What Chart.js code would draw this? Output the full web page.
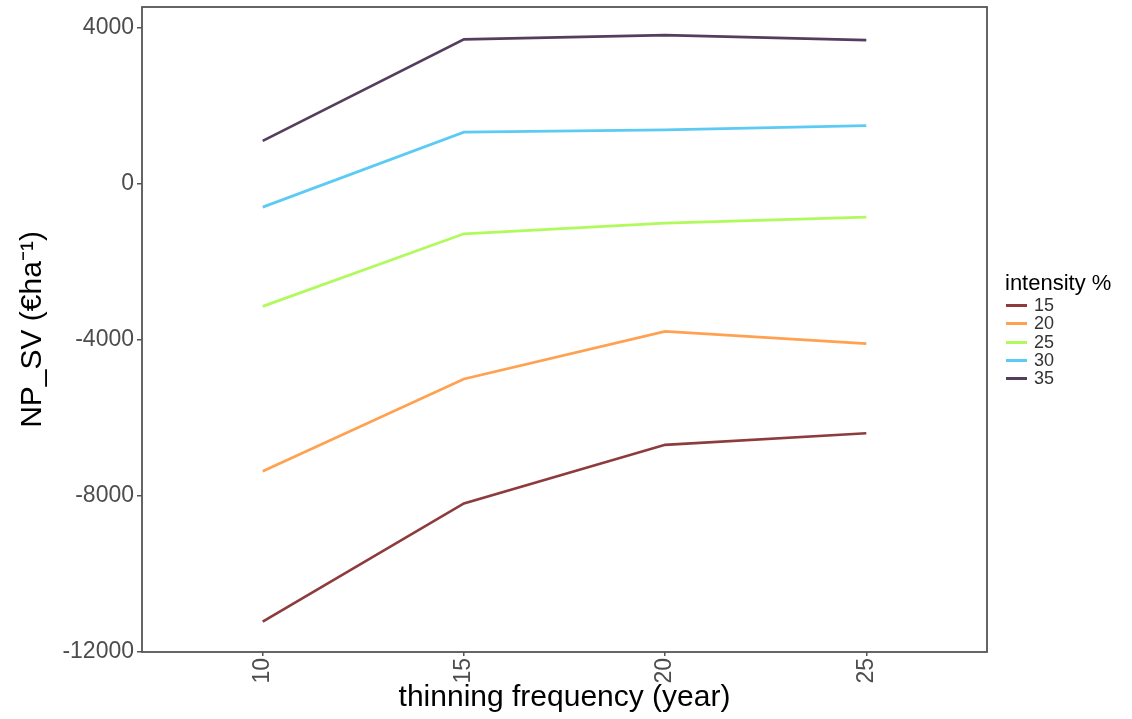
<!DOCTYPE html>
<html>
<head>
<meta charset="utf-8">
<script src="https://cdn.jsdelivr.net/npm/chart.js@4"></script>
<style>
  html, body { margin: 0; padding: 0; background: #fff; }
  #wrap { position: relative; width: 1132px; height: 719px; }
  #legend { position: absolute; left: 1005px; top: 270px; font-family: "Liberation Sans", Arial, sans-serif; }
  #legend .ttl { font-size: 22px; line-height: 26px; color: #000; white-space: nowrap; }
  #legend .row { font-size: 18px; line-height: 18px; height: 18.25px; color: #333; white-space: nowrap; position: relative; padding-left: 29px; }
  #legend .key { position: absolute; left: 1px; top: 8px; width: 21px; height: 3px; }
</style>
</head>
<body>
<div id="wrap">
  <canvas id="c" width="1132" height="719"></canvas>
  <div id="legend"></div>
</div>
<script>
// ---- data ----
const frequencies = [10, 15, 20, 25];
const intensities = ['15', '20', '25', '30', '35'];
const series15 = [-11220, -8190, -6687, -6390];
const series20 = [-7363, -4997, -3778, -4093];
const series25 = [-3137, -1276, -1002, -847];
const series30 = [-592, 1329, 1388, 1498];
const series35 = [1106, 3711, 3821, 3693];
const colors = ['#8e3b3d', '#ffa150', '#b0fa5c', '#5ccbf3', '#553d5e'];
const xTicks = [10, 15, 20, 25];
const yTicks = [-12000, -8000, -4000, 0, 4000];
const legendTitle = 'intensity %';
const xTitle = 'thinning frequency (year)';
const yTitle = 'NP_SV (€ha⁻¹)';

const allSeries = [series15, series20, series25, series30, series35];
const datasets = allSeries.map((s, i) => ({
  label: intensities[i],
  data: s.map((v, j) => ({ x: frequencies[j], y: v })),
  borderColor: colors[i],
  backgroundColor: colors[i],
  borderWidth: 2.7,
  pointRadius: 0,
  tension: 0,
  fill: false
}));

const FONT = '"Liberation Sans", Arial, sans-serif';

const borderPlugin = {
  id: 'panelBorder',
  afterDatasetsDraw(chart) {
    const { ctx, chartArea: a } = chart;
    ctx.save();
    ctx.strokeStyle = '#555';
    ctx.lineWidth = 1.8;
    ctx.strokeRect(a.left, a.top, a.right - a.left, a.bottom - a.top);
    ctx.restore();
  }
};

new Chart(document.getElementById('c'), {
  type: 'line',
  data: { datasets },
  plugins: [borderPlugin],
  options: {
    responsive: false,
    animation: false,
    layout: { padding: { left: 0, top: 7, right: 145, bottom: 0 } },
    plugins: { legend: { display: false }, tooltip: { enabled: false } },
    scales: {
      x: {
        type: 'linear',
        min: 7, max: 28,
        afterBuildTicks: s => { s.ticks = xTicks.map(v => ({ value: v })); },
        afterFit: s => { s.height = 67; s.paddingLeft = 0; s.paddingRight = 0; },
        grid: { display: true, drawOnChartArea: false, drawTicks: true, tickLength: 4, color: '#555', lineWidth: 1.5 },
        border: { display: false },
        ticks: { minRotation: 90, maxRotation: 90, padding: 2, color: '#4d4d4d', font: { family: FONT, size: 23 },
                 callback: v => String(v) },
        title: { display: true, text: xTitle, color: '#000', font: { family: FONT, size: 30 }, padding: { top: 0, bottom: 3 } }
      },
      y: {
        type: 'linear',
        min: -12000, max: 4540,
        afterBuildTicks: s => { s.ticks = yTicks.map(v => ({ value: v })); },
        afterFit: s => { s.width = 142; s.paddingTop = 0; s.paddingBottom = 0; },
        grid: { display: true, drawOnChartArea: false, drawTicks: true, tickLength: 5, color: '#555', lineWidth: 1.5 },
        border: { display: false },
        ticks: { padding: 3, color: '#4d4d4d', font: { family: FONT, size: 23 },
                 callback: v => String(v) },
        title: { display: true, text: yTitle, color: '#000', font: { family: FONT, size: 30 }, padding: { top: 15, bottom: 0 } }
      }
    }
  }
});

// legend (HTML, built from the same arrays)
const lg = document.getElementById('legend');
const t = document.createElement('div');
t.className = 'ttl';
t.textContent = legendTitle;
lg.appendChild(t);
intensities.forEach((lab, i) => {
  const r = document.createElement('div');
  r.className = 'row';
  const k = document.createElement('span');
  k.className = 'key';
  k.style.background = colors[i];
  r.appendChild(k);
  r.appendChild(document.createTextNode(lab));
  lg.appendChild(r);
});
</script>
</body>
</html>
